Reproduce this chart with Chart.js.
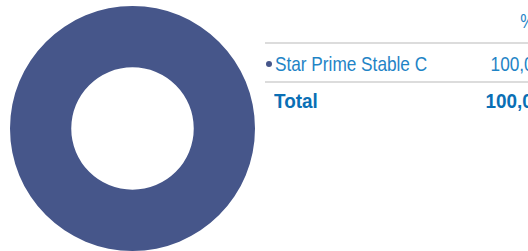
<!DOCTYPE html>
<html>
<head>
<meta charset="utf-8">
<script src="https://cdn.jsdelivr.net/npm/chart.js"></script>
<style>
  html, body { margin: 0; padding: 0; background: #fff; }
  body { width: 528px; height: 251px; position: relative; overflow: hidden; }
  #chartBox { position: absolute; left: 10px; top: 6px; width: 245px; height: 245px; }
  .tbl { position: absolute; left: 265px; width: 290px; font-family: "Liberation Sans", Arial, sans-serif; color: #1f84c6; font-size: 21px; }
  .row { position: absolute; left: 0; width: 290px; height: 30px; line-height: 30px; }
  .name { position: absolute; left: 10px; transform: scaleX(0.82); transform-origin: left center; white-space: nowrap; }
  .val { position: absolute; right: 12px; transform: scaleX(0.82); transform-origin: right center; white-space: nowrap; }
  .head { right: 20px; font-size: 20px; }
  .dot { position: absolute; left: 1px; top: 12px; width: 6px; height: 6px; border-radius: 50%; background: #46568a; }
  .rule { position: absolute; left: 0; width: 290px; height: 2px; background: #dcdcdc; }
  .bold { font-weight: bold; color: #0a6fb5; }
  .bold .name, .bold .val { transform: scaleX(0.9); }
</style>
</head>
<body>
<div id="chartBox"><canvas id="pie"></canvas></div>
<div class="tbl" id="tbl"></div>
<script>
const labels = ['Star Prime Stable C']
const values = [100]
const valueText = ['100,00']
const colors = ['#46568a']
const headerText = '%'
const totalText = ['Total', '100,00']

// table on the right
const tbl = document.getElementById('tbl')
let html = `<div class="row" style="top:6px"><span class="val head">${headerText}</span></div>`
html += `<div class="rule" style="top:42px"></div>`
labels.forEach((item, index) => {
  html += `
    <div class="row" style="top:${49 + index * 38}px">
      <div class="dot" style="background:${colors[index]}"></div>
      <span class="name">${item}</span>
      <span class="val">${valueText[index]}</span>
    </div>
    <div class="rule" style="top:${81 + index * 38}px"></div>`
})
html += `<div class="row bold" style="top:${86 + (labels.length - 1) * 38}px">
  <span class="name" style="left:9px">${totalText[0]}</span>
  <span class="val">${totalText[1]}</span>
</div>`
tbl.innerHTML = html

new Chart(document.getElementById('pie'), {
  type: 'doughnut',
  data: {
    labels: labels,
    datasets: [{
      data: values,
      backgroundColor: colors,
      borderWidth: 0
    }]
  },
  options: {
    responsive: true,
    maintainAspectRatio: false,
    animation: false,
    cutout: '50%',
    layout: { padding: 0 },
    plugins: {
      legend: { display: false },
      tooltip: { enabled: false }
    }
  }
})
</script>
</body>
</html>
